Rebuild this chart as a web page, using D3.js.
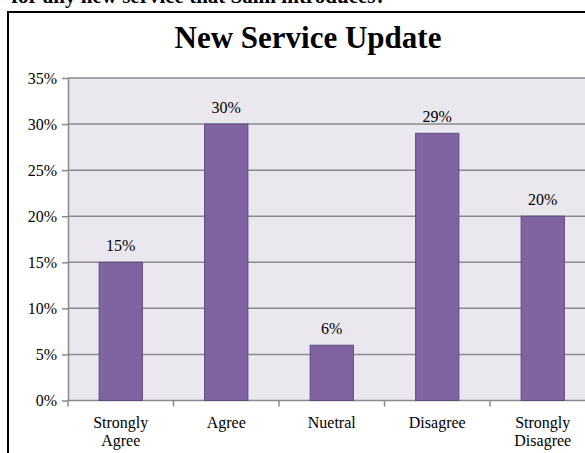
<!DOCTYPE html>
<html>
<head>
<meta charset="utf-8">
<script src="https://cdn.jsdelivr.net/npm/d3@7"></script>
<style>
  html, body { margin: 0; padding: 0; background: #fff; overflow: hidden; }
  svg { display: block; }
  text { font-family: "Liberation Serif", "Times New Roman", serif; }
</style>
</head>
<body>
<svg id="chart" width="585" height="453"></svg>
<script>
const categories = [["Strongly", "Agree"], ["Agree"], ["Nuetral"], ["Disagree"], ["Strongly", "Disagree"]];
const values = [0.15, 0.30, 0.06, 0.29, 0.20];
const valueLabels = ["15%", "30%", "6%", "29%", "20%"];
const yTicks = [0, 0.05, 0.10, 0.15, 0.20, 0.25, 0.30, 0.35];
const title = "New Service Update";
const headerText = "for any new service that Salm introduces?";

const svg = d3.select("#chart");
const keys = categories.map(c => c.join(" "));

// header text, cropped at the top of the window (as in the reference)
svg.append("text")
  .attr("x", 386).attr("y", 3)
  .attr("text-anchor", "end")
  .attr("font-size", 21).attr("font-weight", "bold")
  .attr("fill", "#000")
  .text(headerText);

// chart frame
svg.append("rect")
  .attr("x", 8).attr("y", 12)
  .attr("width", 700).attr("height", 600)
  .attr("fill", "#fff").attr("stroke", "#000").attr("stroke-width", 2);

const plot = { left: 68, top: 78, bottom: 400.5, right: 595.5 };

const x = d3.scaleBand().domain(keys)
  .range([plot.left, plot.right])
  .paddingInner(0.59).paddingOuter(0.295);
const y = d3.scaleLinear().domain([0, 0.35]).range([plot.bottom, plot.top]);

// plot background
svg.append("rect")
  .attr("x", plot.left).attr("y", plot.top)
  .attr("width", plot.right - plot.left).attr("height", plot.bottom - plot.top)
  .attr("fill", "#EAE7EE");

// gridlines
svg.append("g").selectAll("line").data(yTicks.filter(d => d > 0)).join("line")
  .attr("x1", plot.left).attr("x2", plot.right)
  .attr("y1", d => y(d)).attr("y2", d => y(d))
  .attr("stroke", "#8a8a8a").attr("stroke-width", 1.5);

// y axis
const yAxis = svg.append("g")
  .attr("transform", `translate(${plot.left},0)`)
  .call(d3.axisLeft(y).tickValues(yTicks).tickFormat(d3.format(".0%")).tickSizeInner(6).tickSizeOuter(0).tickPadding(5));
yAxis.attr("font-family", null);
yAxis.select(".domain").attr("stroke", "#8a8a8a").attr("stroke-width", 1.5);
yAxis.selectAll(".tick line").attr("stroke", "#8a8a8a").attr("stroke-width", 1.5);
yAxis.selectAll(".tick text").attr("font-size", 16).attr("fill", "#000")
  .style("font-family", "'Liberation Serif', serif");

// x axis
const bounds = d3.range(keys.length + 1).map(i => plot.left + i * x.step());
const xAxis = svg.append("g");
xAxis.append("line")
  .attr("x1", plot.left).attr("x2", plot.right)
  .attr("y1", plot.bottom).attr("y2", plot.bottom)
  .attr("stroke", "#8a8a8a").attr("stroke-width", 1.5);
xAxis.selectAll("line.tk").data(bounds).join("line").attr("class", "tk")
  .attr("x1", d => d).attr("x2", d => d)
  .attr("y1", plot.bottom).attr("y2", plot.bottom + 6)
  .attr("stroke", "#8a8a8a").attr("stroke-width", 1.5);

// bars
svg.append("g").selectAll("rect").data(values).join("rect")
  .attr("x", (d, i) => x(keys[i]))
  .attr("y", d => y(d))
  .attr("width", x.bandwidth())
  .attr("height", d => plot.bottom - y(d))
  .attr("fill", "#8064A2")
  .attr("stroke", "#5F4A80").attr("stroke-width", 1);

// value labels
svg.append("g").selectAll("text").data(values).join("text")
  .attr("x", (d, i) => x(keys[i]) + x.bandwidth() / 2)
  .attr("y", d => y(d) - 11)
  .attr("text-anchor", "middle")
  .attr("font-size", 16).attr("fill", "#000")
  .text((d, i) => valueLabels[i]);

// category labels
const cl = svg.append("g").selectAll("text").data(categories).join("text")
  .attr("x", (d, i) => x(keys[i]) + x.bandwidth() / 2)
  .attr("y", 428)
  .attr("text-anchor", "middle")
  .attr("font-size", 16).attr("fill", "#000");
cl.selectAll("tspan").data(d => d).join("tspan")
  .attr("x", function() { return d3.select(this.parentNode).attr("x"); })
  .attr("dy", (d, i) => i === 0 ? 0 : 18)
  .text(d => d);

// title
svg.append("text")
  .attr("x", 308).attr("y", 48)
  .attr("text-anchor", "middle")
  .attr("font-size", 31).attr("font-weight", "bold").attr("fill", "#000")
  .text(title);
</script>
</body>
</html>
